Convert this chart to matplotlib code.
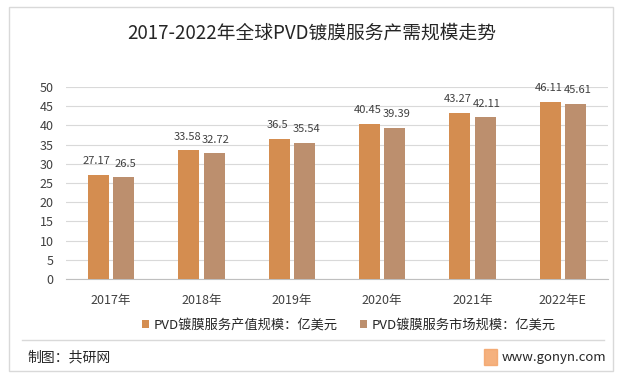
import matplotlib
matplotlib.use("Agg")
import matplotlib.pyplot as plt
import numpy as np
from matplotlib.patches import Rectangle
from matplotlib.lines import Line2D

plt.rcParams['font.family'] = ['Noto Sans CJK SC', 'DejaVu Sans']

categories = ["2017年", "2018年", "2019年", "2020年", "2021年", "2022年E"]
production = [27.17, 33.58, 36.5, 40.45, 43.27, 46.11]
market = [26.5, 32.72, 35.54, 39.39, 42.11, 45.61]
series_names = ["PVD镀膜服务产值规模：亿美元", "PVD镀膜服务市场规模：亿美元"]
yticks = [0, 5, 10, 15, 20, 25, 30, 35, 40, 45, 50]

c1 = "#D48D50"
c2 = "#BC8F6E"
txt = "#404040"

W, H = 623, 378
fig = plt.figure(figsize=(W/100, H/100), dpi=100)
fig.patch.set_facecolor("white")

def fx(px):
    return px / W

def fy(py):
    return 1 - py / H

# outer border
fig.add_artist(Rectangle((fx(9), fy(371)), fx(613) - fx(9), fy(7) - fy(371),
                         transform=fig.transFigure, fill=False,
                         edgecolor="#D9D9D9", linewidth=1))

ax = fig.add_axes([fx(66), fy(279), fx(608) - fx(66), fy(87) - fy(279)])
x = np.arange(len(categories))
w = 0.23
off = 0.14
b1 = ax.bar(x - off, production, w, color=c1, zorder=3, label=series_names[0])
b2 = ax.bar(x + off, market, w, color=c2, zorder=3, label=series_names[1])

for bars, vals, dx in ((b1, production, -0.02), (b2, market, 0.02)):
    for rect, v in zip(bars, vals):
        ax.text(rect.get_x() + rect.get_width()/2 + dx, v + 3.5, f"{v:g}",
                ha="center", va="center", fontsize=8, color=txt, zorder=4)

ax.set_xlim(-0.5, len(categories) - 0.5)
ax.set_ylim(0, 50)
ax.set_yticks(yticks)
ax.set_xticks(x)
ax.set_xticklabels(categories)
ax.tick_params(axis="both", length=0, labelsize=9, colors=txt)
ax.tick_params(axis="x", pad=11)
ax.tick_params(axis="y", pad=9)
ax.grid(axis="y", color="#D9D9D9", linewidth=0.8, zorder=0)
for s in ["top", "right", "left"]:
    ax.spines[s].set_visible(False)
ax.spines["bottom"].set_color("#BFBFBF")

fig.legend(handles=[b1, b2], labels=series_names, loc="center",
           bbox_to_anchor=(fx(349), fy(325)), ncol=2, frameon=False,
           fontsize=9.5, handlelength=0.55, handleheight=0.55,
           columnspacing=1.7, handletextpad=0.35, labelcolor="#262626",
           borderpad=0, borderaxespad=0)

fig.text(0.5, fy(33), "2017-2022年全球PVD镀膜服务产需规模走势", ha="center",
         va="center", fontsize=13.5, color="#262626")

fig.add_artist(Line2D([fx(22), fx(604)], [fy(340), fy(340)],
                      transform=fig.transFigure, color="#D9D9D9", linewidth=1))
fig.text(fx(27), fy(357), "制图：共研网", ha="left", va="center",
         fontsize=10, color="#262626")
fig.add_artist(Rectangle((fx(484), fy(365)), fx(497) - fx(484), fy(349) - fy(365),
                         transform=fig.transFigure, color="#F4A468", alpha=0.85))
fig.text(fx(502), fy(357), "www.gonyn.com", ha="left", va="center",
         fontsize=9.5, color="#262626")

fig.savefig("out.png", dpi=100)
